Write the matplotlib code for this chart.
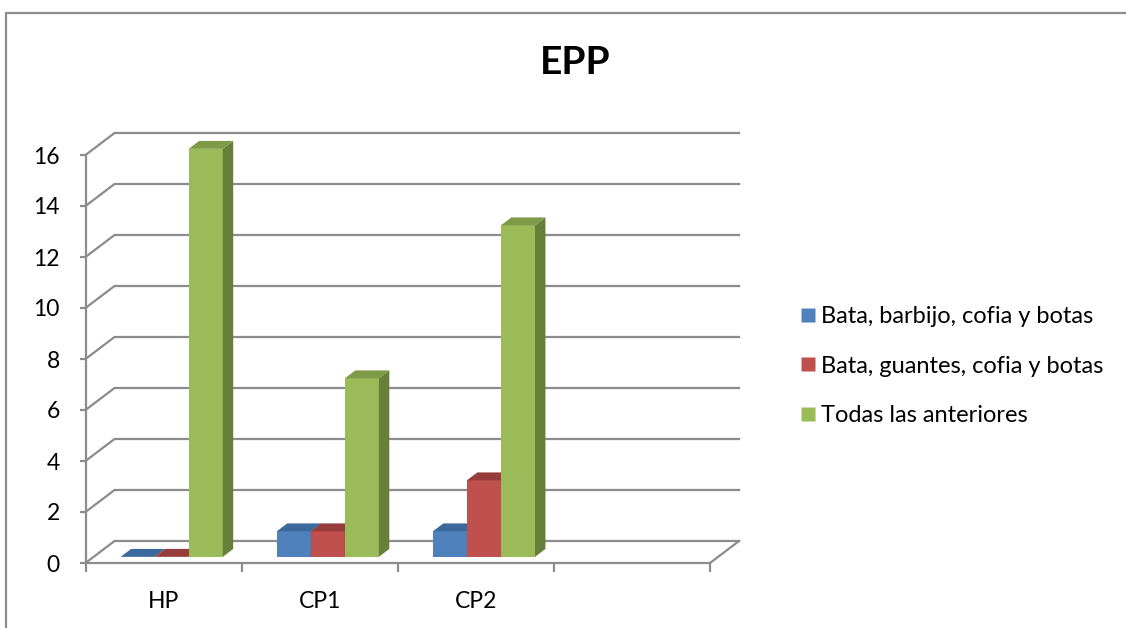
import numpy as np
import matplotlib.pyplot as plt
from matplotlib.patches import Polygon
from matplotlib.lines import Line2D

plt.rcParams['font.family'] = ['Lato', 'DejaVu Sans']

# data
categories = ['HP', 'CP1', 'CP2']
series_names = ['Bata, barbijo, cofia y botas',
                'Bata, guantes, cofia y botas',
                'Todas las anteriores']
bata_barbijo = [0, 1, 1]
bata_guantes = [0, 1, 3]
todas = [16, 7, 13]
y_ticks = [0, 2, 4, 6, 8, 10, 12, 14, 16]

values = [bata_barbijo, bata_guantes, todas]
front_col = ['#4F81BD', '#C0504D', '#9BBB59']
top_col = ['#3C699B', '#963C3A', '#7E9A47']
side_col = ['#375D89', '#8A3735', '#677F38']
grid_col = '#8C8C8C'

n_slots = 4          # excel leaves an empty 4th slot
DX = 0.186           # wall depth, x in category units
DY = 0.863           # wall depth, y in value units
f0, fd = 0.28, 0.36  # bar front position / bar depth as fraction of wall
bw = 0.218

fig = plt.figure(figsize=(11.26, 6.28), dpi=100)
ax = fig.add_axes([85.5 / 1126, 65 / 628, 624.5 / 1126, 408 / 628])
ax.set_xlim(0, n_slots)
ax.set_ylim(0, 16)

# walls / gridlines
for v in y_ticks:
    ax.plot([0, DX, n_slots + DX], [v, v + DY, v + DY], color=grid_col,
            lw=1.6, clip_on=False, zorder=1, solid_joinstyle='miter')
ax.plot([n_slots, n_slots + DX], [0, DY], color=grid_col, lw=1.6,
        clip_on=False, zorder=1)

# bars
for s in range(3):
    for i, h in enumerate(values[s]):
        xl = i + 0.5 + (s - 1.5) * bw + f0 * DX
        xr = xl + bw
        b = f0 * DY
        t = b + h
        ax.bar(xl, h, width=bw, bottom=b, align='edge', color=front_col[s],
               zorder=2 + s, clip_on=False)
        ax.add_patch(Polygon([(xr, b), (xr, t), (xr + fd * DX, t + fd * DY),
                              (xr + fd * DX, b + fd * DY)], closed=True,
                             facecolor=side_col[s], edgecolor='none',
                             zorder=2 + s, clip_on=False))
        ax.add_patch(Polygon([(xl, t), (xr, t), (xr + fd * DX, t + fd * DY),
                              (xl + fd * DX, t + fd * DY)], closed=True,
                             facecolor=top_col[s], edgecolor='none',
                             zorder=2 + s, clip_on=False))

for sp in ['top', 'right']:
    ax.spines[sp].set_visible(False)
for sp in ['left', 'bottom']:
    ax.spines[sp].set_color(grid_col)
    ax.spines[sp].set_linewidth(1.6)
    ax.spines[sp].set_zorder(1)

ax.set_yticks(y_ticks)
ax.tick_params(axis='y', length=4.5, width=1.6, color=grid_col, pad=14,
               labelsize=16.5)
ax.set_xticks(range(n_slots + 1))
ax.set_xticklabels([])
ax.set_xticks([i + 0.5 for i in range(len(categories))], minor=True)
ax.set_xticklabels(categories, minor=True)
ax.tick_params(axis='x', which='major', length=6.5, width=1.6, color=grid_col)
ax.tick_params(axis='x', which='minor', length=0, pad=20, labelsize=16.5)
ax.set_facecolor('none')

fig.text(0.511, 0.9, 'EPP', ha='center', va='center', fontsize=28,
         fontweight='bold')

handles = [Line2D([], [], marker='s', linestyle='none', markersize=10,
                  markerfacecolor=c, markeredgecolor='none') for c in front_col]
fig.legend(handles, series_names, loc='center left',
           bbox_to_anchor=(0.700, 0.417), frameon=False, fontsize=17,
           handlelength=0.7, handletextpad=0.2, labelspacing=1.2,
           borderpad=0)

# outer chart border (left and top visible)
fig.add_artist(Line2D([6 / 1126, 6 / 1126, 1.0], [0, 1 - 13 / 628, 1 - 13 / 628],
                      transform=fig.transFigure, color='#8C8C8C', lw=1.6))

fig.savefig('out.png', dpi=100)
